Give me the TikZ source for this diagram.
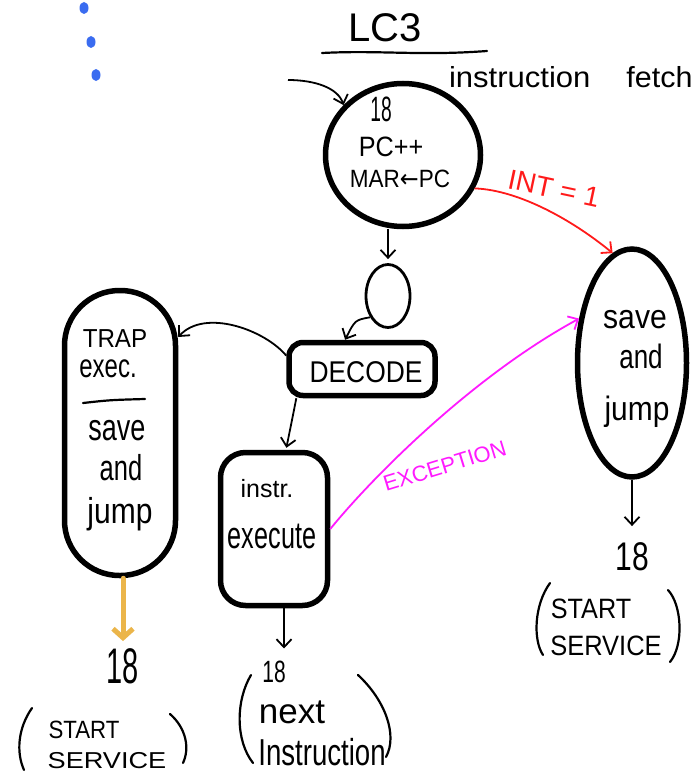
\documentclass[tikz,border=0pt]{standalone}
\usepackage{fontspec}
\usepackage{graphicx}
\setmainfont{Liberation Sans}
\newfontfamily\symfont{DejaVu Sans}
\usetikzlibrary{shapes.geometric,arrows.meta}

\definecolor{intred}{HTML}{FF1A1A}
\definecolor{excmag}{HTML}{FF1AFF}
\definecolor{trapor}{HTML}{EBB54A}
\definecolor{dotblue}{HTML}{3A6CF0}

% scaled text: \hw[yscale]{xscale}{size}{text}
\newcommand\hw[4][1]{\scalebox{#2}[#1]{\fontsize{#3}{#3}\selectfont #4}}

\begin{document}
\begin{tikzpicture}[x=1pt,y=-1pt,
  lbl/.style={anchor=base,inner sep=0pt,outer sep=0pt},
  state/.style={draw,line width=5.5pt,inner sep=0pt,fill=none},
  arr/.style={line width=1.8pt,-{Straight Barb[length=8pt,width=15pt]}},
  pen/.style={line width=2.2pt,line cap=round}]
\useasboundingbox (0,0) rectangle (691,776);

% three dots (continuation)
\fill[dotblue] (84,8) ellipse (4.5 and 6);
\fill[dotblue] (91,42) ellipse (4.5 and 6);
\fill[dotblue] (96,75) ellipse (4.5 and 6);

% title and heading
\node[lbl] (title) at (385,42) {\hw{1}{40}{LC3}};
\draw[pen] (322,53) .. controls (380,50) and (420,56) .. (487,51);
\node[lbl,anchor=base west] (fetchlbl) at (449,87)
  {\hw{1.07}{29}{instruction}\hspace{36pt}\hw{1.05}{29}{fetch}};

% states
\node[state,ellipse,minimum width=155pt,minimum height=143pt] (fetch) at (403,155) {};
\node[state,ellipse,line width=2.8pt,minimum width=44pt,minimum height=63pt] (small) at (388,296) {};
\node[state,rectangle,rounded corners=14pt,minimum width=146pt,minimum height=53pt] (decode) at (362,369) {};
\node[state,rectangle,rounded corners=55pt,minimum width=111pt,minimum height=285pt] (trap) at (120,433) {};
\node[state,rectangle,rounded corners=25pt,minimum width=107pt,minimum height=153pt] (exec) at (274,529) {};
\node[state,ellipse,minimum width=109pt,minimum height=228pt] (rj) at (632,363) {};

% state texts
\node[lbl] (f18) at (381,121) {\hw[1.1]{0.6}{32}{18}};
\node[lbl] (pcpp) at (391,156) {\hw{0.9}{28}{PC++}};
\node[lbl] (marpc) at (400,187) {\hw{0.9}{25}{MAR{\symfont ←}PC}};
\node[lbl] (declbl) at (366,382) {\hw{0.88}{30}{DECODE}};
\node[lbl] (traplbl) at (115,347) {\hw{0.93}{26}{TRAP}};
\node[lbl] (execlbl) at (108,377) {\hw[1.1]{0.8}{30}{exec.}};
\draw[pen] (83,403) .. controls (110,400) .. (145,399);
\node[lbl] (tsave) at (117,440) {\hw[1.25]{0.9}{30}{save}};
\node[lbl] (tand) at (121,480) {\hw[1.2]{0.85}{30}{and}};
\node[lbl] (tjump) at (120,523) {\hw[1.2]{1}{30}{jump}};
\node[lbl] (instr) at (267,497) {\hw{1}{25}{instr.}};
\node[lbl] (execute) at (272,548) {\hw[1.35]{0.9}{28}{execute}};
\node[lbl] (rsave) at (635,328) {\hw[1.3]{1.16}{26}{save}};
\node[lbl] (rand) at (641,368) {\hw[1.3]{1}{26}{and}};
\node[lbl] (rjump) at (637,420) {\hw[1.3]{1.15}{26}{jump}};

% outcomes
\node[lbl] (l18) at (123,683) {\hw{0.58}{50}{18}};
\node[lbl] (lstart) at (84,738) {\hw{0.89}{25}{START}};
\node[lbl] (lserv) at (107,768) {\hw{1.18}{23}{SERVICE}};
\draw[pen] (32,708) .. controls (18,728) and (16,752) .. (24,770);
\draw[pen] (170,714) .. controls (186,728) and (190,748) .. (183,763);

\node[lbl] (e18) at (274,682) {\hw[1.1]{0.75}{28}{18}};
\node[lbl] (enext) at (292,723) {\hw{1}{35}{next}};
\node[lbl] (einstr) at (322,765) {\hw[1.25]{0.92}{30}{Instruction}};
\draw[pen] (251,675) .. controls (236,700) and (235,740) .. (253,763);
\draw[pen] (358,675) .. controls (385,700) and (398,735) .. (386,757);

\node[lbl] (r18) at (632,570) {\hw{0.75}{40}{18}};
\node[lbl] (rstart) at (591,618) {\hw{0.9}{28}{START}};
\node[lbl] (rserv) at (606,655) {\hw{0.91}{28}{SERVICE}};
\draw[pen] (550,583) .. controls (534,605) and (533,640) .. (543,655);
\draw[pen] (668,590) .. controls (682,605) and (684,645) .. (670,662);

% connectors
\coordinate (entry) at (288,80);
\draw[arr] (entry) .. controls (315,80) and (338,88) .. (fetch.140);
\draw[arr,shorten >=4pt] (fetch.south -| small.north) -- (small.north);
\draw[arr] (small.-130) .. controls (355,320) .. (decode.120);
\draw[arr] (decode.170) .. controls (265,330) and (205,308) .. ([yshift=96pt]trap.east);
\draw[arr,shorten >=2pt] (decode.-156) .. controls (293,415) .. ([xshift=12pt]exec.north);
\draw[arr] ([xshift=10pt]exec.south) -- ([xshift=10pt,yshift=12pt]e18.north);
\draw[arr] (rj.south) -- ([yshift=16pt]r18.north);
\draw[trapor,line width=5pt,line cap=round,-{Straight Barb[length=9pt,width=20pt]}]
  ([xshift=3pt]trap.south) -- ([yshift=7pt]l18.north);

% interrupt and exception
\draw[intred,arr] (fetch.-25) .. controls (520,190) and (575,222) .. (rj.100);
\node[lbl,text=intred,rotate=-12] (intlbl) at (552,198) {\hw{1}{28}{INT = 1}};
\draw[excmag,arr] (exec.east) .. controls (370,480) and (470,378) .. (rj.140);
\node[lbl,text=excmag,rotate=17] (exclbl) at (447,473) {\hw{1}{22}{EXCEPTION}};
\end{tikzpicture}
\end{document}
